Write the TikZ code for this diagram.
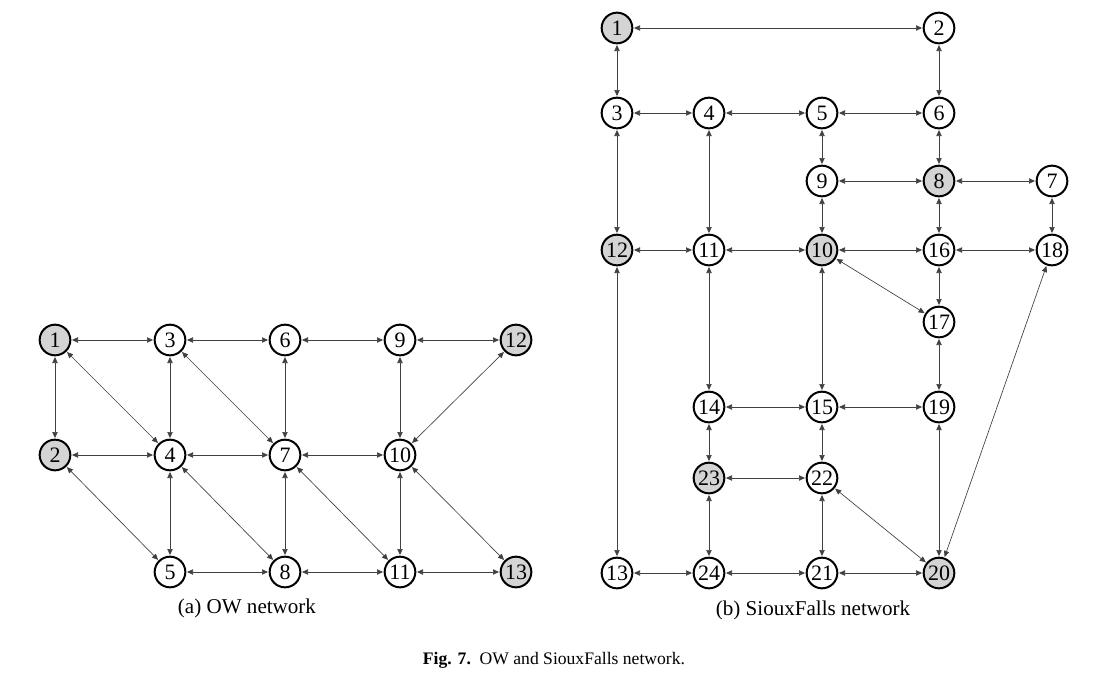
\documentclass[tikz,border=0pt]{standalone}
\usepackage{fontspec}
\setmainfont{Liberation Serif}
\usetikzlibrary{arrows.meta}

\begin{document}
\begin{tikzpicture}[x=0.75pt, y=-0.75pt,
  zone/.style={circle, draw, line width=1.5pt, minimum size=23pt, inner sep=0pt, font=\fontsize{16.5}{16.5}\selectfont, fill=white},
  od/.style={zone, fill=black!17},
  link/.style={{Triangle[length=4.5pt,width=4pt]}-{Triangle[length=4.5pt,width=4pt]}, line width=0.5pt, draw=black!75, shorten >=0.5pt, shorten <=0.5pt}]
\useasboundingbox (0,0) rectangle (1118,675);

% (a) OW network
\node[od]   (o1)  at (55,340)  {1};
\node[zone] (o3)  at (170,340) {3};
\node[zone] (o6)  at (285,340) {6};
\node[zone] (o9)  at (400,340) {9};
\node[od]   (o12) at (516,340) {12};
\node[od]   (o2)  at (55,455)  {2};
\node[zone] (o4)  at (170,455) {4};
\node[zone] (o7)  at (285,455) {7};
\node[zone] (o10) at (400,455) {10};
\node[zone] (o5)  at (170,572) {5};
\node[zone] (o8)  at (285,572) {8};
\node[zone] (o11) at (400,572) {11};
\node[od]   (o13) at (516,572) {13};

\foreach \a/\b in {1/3,3/6,6/9,9/12,1/2,1/4,3/4,3/7,6/7,9/10,12/10,2/4,4/7,7/10,
                   2/5,4/5,4/8,7/8,7/11,10/11,10/13,5/8,8/11,11/13}
  \draw[link] (o\a) -- (o\b);

\node (capa) at (247,608) {\fontsize{15.8}{16}\selectfont (a) OW network};

% (b) SiouxFalls network
\node[od]   (s1)  at (617,28)   {1};
\node[zone] (s2)  at (939,28)   {2};
\node[zone] (s3)  at (617,113)  {3};
\node[zone] (s4)  at (709,113)  {4};
\node[zone] (s5)  at (822,113)  {5};
\node[zone] (s6)  at (939,113)  {6};
\node[zone] (s9)  at (822,181)  {9};
\node[od]   (s8)  at (939,181)  {8};
\node[zone] (s7)  at (1052,181) {7};
\node[od]   (s12) at (617,250)  {12};
\node[zone] (s11) at (709,250)  {11};
\node[od]   (s10) at (822,250)  {10};
\node[zone] (s16) at (939,250)  {16};
\node[zone] (s18) at (1052,250) {18};
\node[zone] (s17) at (939,322)  {17};
\node[zone] (s14) at (709,407)  {14};
\node[zone] (s15) at (822,407)  {15};
\node[zone] (s19) at (939,407)  {19};
\node[od]   (s23) at (709,478)  {23};
\node[zone] (s22) at (822,478)  {22};
\node[zone] (s13) at (617,573)  {13};
\node[zone] (s24) at (709,573)  {24};
\node[zone] (s21) at (822,573)  {21};
\node[od]   (s20) at (939,573)  {20};

\foreach \a/\b in {1/2,1/3,2/6,3/4,4/5,5/6,3/12,4/11,5/9,6/8,9/8,8/7,9/10,8/16,7/18,
                   12/11,11/10,10/16,16/18,10/17,16/17,18/20,11/14,10/15,17/19,12/13,
                   14/15,15/19,14/23,15/22,19/20,23/22,22/20,23/24,22/21,13/24,24/21,21/20}
  \draw[link] (s\a) -- (s\b);

\node (capb) at (813,610) {\fontsize{15.8}{16}\selectfont (b) SiouxFalls network};

\node (fig) at (554,660) {\fontsize{13.2}{14}\selectfont\textbf{Fig. 7.}\enspace OW and SiouxFalls network.};
\end{tikzpicture}
\end{document}
